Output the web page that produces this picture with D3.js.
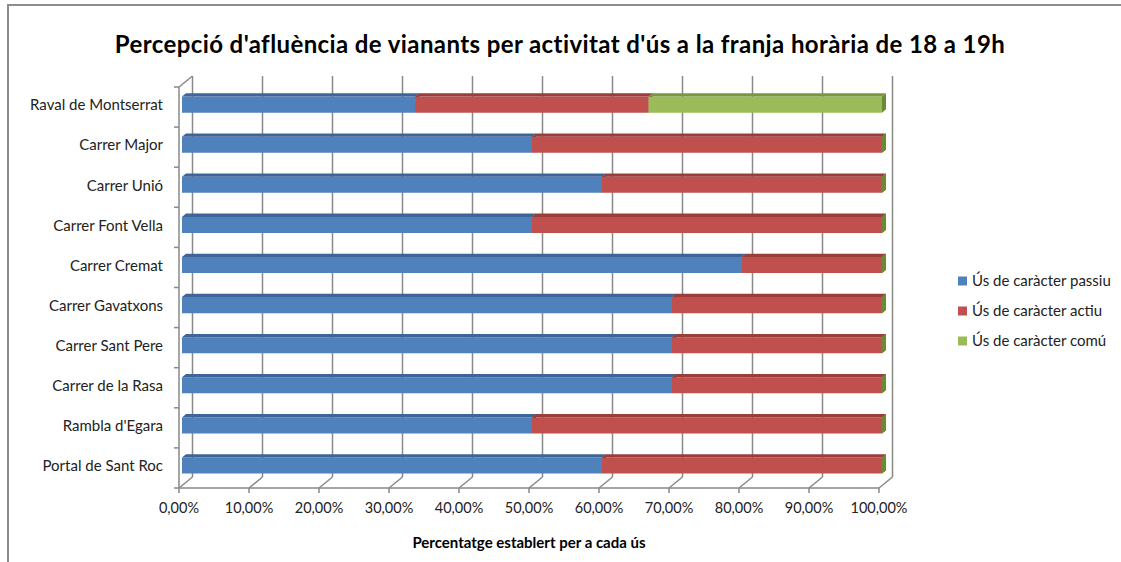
<!DOCTYPE html>
<html>
<head>
<meta charset="utf-8">
<script src="https://cdn.jsdelivr.net/npm/d3@7"></script>
<style>
  body { margin: 0; background: #fff; }
  svg { display: block; font-family: Lato, "Open Sans", sans-serif; }
</style>
</head>
<body>
<div id="chart"></div>
<script>
// data
const carrers = ["Raval de Montserrat", "Carrer Major", "Carrer Unió", "Carrer Font Vella", "Carrer Cremat",
  "Carrer Gavatxons", "Carrer Sant Pere", "Carrer de la Rasa", "Rambla d'Egara", "Portal de Sant Roc"];
const usPassiu = [33.33, 50, 60, 50, 80, 70, 70, 70, 50, 60];
const usActiu  = [33.33, 50, 40, 50, 20, 30, 30, 30, 50, 40];
const usComu   = [33.34, 0, 0, 0, 0, 0, 0, 0, 0, 0];
const seriesNames = ["Ús de caràcter passiu", "Ús de caràcter actiu", "Ús de caràcter comú"];
const xTicks = [0, 10, 20, 30, 40, 50, 60, 70, 80, 90, 100];

const W = 1121, H = 562;
const svg = d3.select("#chart").append("svg").attr("width", W).attr("height", H);

const colors = [
  { front: "#4F81BD", top: "#3E6598", side: "#3A5F8E" },
  { front: "#C0504D", top: "#9A3E3B", side: "#8F3A37" },
  { front: "#9BBB59", top: "#7A963F", side: "#6B8A35" }
];

// chart frame
svg.append("path")
  .attr("d", "M8,562 L8,5 L1121,5")
  .attr("fill", "none").attr("stroke", "#8c8c8c").attr("stroke-width", 2);

svg.append("text")
  .attr("x", 560).attr("y", 53)
  .attr("text-anchor", "middle")
  .attr("font-size", 24).attr("font-weight", "bold")
  .attr("letter-spacing", 0.4)
  .attr("fill", "#000")
  .text("Percepció d'afluència de vianants per activitat d'ús a la franja horària de 18 a 19h");

// scales + fake depth
const x = d3.scaleLinear().domain([0, 100]).range([179, 879]);
const y = d3.scaleBand().domain(carrers).range([87, 488]).paddingInner(0.6).paddingOuter(0.3);
const DX = 13.5, DY = 11;
const yFloor = 488, yTopWall = 87;
const P = (v, d, yy) => [x(v) + DX * d, yy - DY * d];

const grid = svg.append("g").attr("stroke", "#898989").attr("stroke-width", 1.5).attr("fill", "none");

// back wall gridlines
grid.selectAll(".gl").data(xTicks).enter().append("line")
  .attr("x1", d => P(d, 1, yFloor)[0]).attr("y1", P(0, 1, yFloor)[1])
  .attr("x2", d => P(d, 1, yTopWall)[0]).attr("y2", P(0, 1, yTopWall)[1]);

// floor diagonals
grid.selectAll(".fd").data(xTicks).enter().append("line")
  .attr("x1", d => x(d)).attr("y1", yFloor)
  .attr("x2", d => P(d, 1, yFloor)[0]).attr("y2", P(0, 1, yFloor)[1]);

// front axis line + ticks
grid.append("line").attr("x1", x(0)).attr("x2", x(100)).attr("y1", yFloor).attr("y2", yFloor);
grid.selectAll(".xt").data(xTicks).enter().append("line")
  .attr("x1", d => x(d)).attr("x2", d => x(d)).attr("y1", yFloor).attr("y2", yFloor + 5);

// left wall / y axis
grid.append("line").attr("x1", x(0)).attr("x2", x(0)).attr("y1", yTopWall).attr("y2", yFloor);
grid.append("line").attr("x1", x(0)).attr("y1", yTopWall)
  .attr("x2", P(0, 1, yTopWall)[0]).attr("y2", P(0, 1, yTopWall)[1]);
const yTickPos = carrers.map(c => y(c) - y.step() * y.paddingInner() / 2).concat([yFloor]);
yTickPos[0] = yTopWall;
grid.selectAll(".yt").data(yTickPos).enter().append("line")
  .attr("x1", x(0) - 5).attr("x2", x(0)).attr("y1", d => d).attr("y2", d => d);

// x tick labels
svg.append("g").selectAll("text").data(xTicks).enter().append("text")
  .attr("x", d => x(d)).attr("y", 513)
  .attr("text-anchor", "middle").attr("font-size", 14.5).attr("fill", "#222")
  .text(d => d3.format(".2f")(d).replace(".", ",") + "%");

svg.append("text")
  .attr("x", 529).attr("y", 548).attr("text-anchor", "middle")
  .attr("font-size", 15).attr("font-weight", "bold").attr("fill", "#000")
  .text("Percentatge establert per a cada ús");

// category labels
svg.append("g").selectAll("text").data(carrers).enter().append("text")
  .attr("x", 163).attr("y", d => y(d) + y.bandwidth() / 2 - 2)
  .attr("dy", "0.35em").attr("text-anchor", "end")
  .attr("font-size", 15).attr("fill", "#222")
  .text(d => d);

// stacked 3d bars
const d1 = 0.22, d2 = 0.52;
const rows = carrers.map((c, i) => ({ c, vals: [usPassiu[i], usActiu[i], usComu[i]] }));
const poly = pts => pts.map(p => p.join(",")).join(" ");

rows.forEach(r => {
  const g = svg.append("g");
  const yt = y(r.c), yb = y(r.c) + y.bandwidth();
  let acc = 0;
  r.vals.forEach((v, s) => {
    const a = acc, b = acc + v;
    acc = b;
    const col = colors[s];
    g.append("polygon")
      .attr("points", poly([P(a, d1, yt), P(b, d1, yt), P(b, d1, yb), P(a, d1, yb)]))
      .attr("fill", col.front);
    g.append("polygon")
      .attr("points", poly([P(a, d1, yt), P(b, d1, yt), P(b, d2, yt), P(a, d2, yt)]))
      .attr("fill", col.top);
    g.append("polygon")
      .attr("points", poly([P(b, d1, yt), P(b, d2, yt), P(b, d2, yb), P(b, d1, yb)]))
      .attr("fill", col.side);
  });
});

// legend
const leg = svg.append("g").attr("transform", "translate(958,281)");
seriesNames.forEach((n, i) => {
  leg.append("rect").attr("x", 0).attr("y", i * 30 - 4.5).attr("width", 9).attr("height", 9)
    .attr("fill", colors[i].front);
  leg.append("text").attr("x", 14).attr("y", i * 30).attr("dy", "0.35em")
    .attr("font-size", 15).attr("fill", "#222").text(n);
});
</script>
</body>
</html>
